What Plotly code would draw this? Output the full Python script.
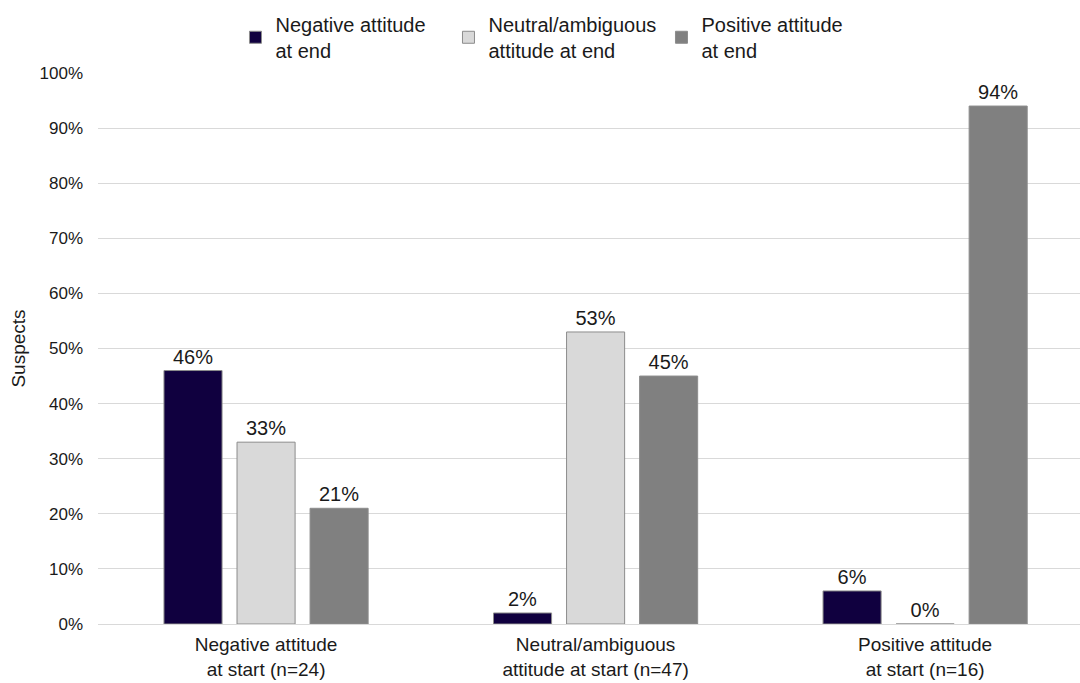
import plotly.graph_objects as go

categories = ["Negative attitude<br>at start (n=24)",
              "Neutral/ambiguous<br>attitude at start (n=47)",
              "Positive attitude<br>at start (n=16)"]
series_names = ["Negative attitude<br>at end",
                "Neutral/ambiguous<br>attitude at end",
                "Positive attitude<br>at end"]
negative_end = [46, 2, 6]
neutral_end = [33, 53, 0]
positive_end = [21, 45, 94]
colors = ["#10003F", "#D9D9D9", "#808080"]
y_ticks = list(range(0, 101, 10))
y_tick_labels = [f"{v}%" for v in y_ticks]

FONT = "Liberation Sans, Arial, sans-serif"
TXT = "#1a1a1a"

fig = go.Figure()
for name, vals, col in zip(series_names, [negative_end, neutral_end, positive_end], colors):
    fig.add_trace(go.Bar(
        x=list(range(len(categories))), y=vals, name=name,
        marker=dict(color=col, line=dict(color="#8C8C8C", width=1)),
        text=[f"{v}%" for v in vals], texttemplate="%{text}", textposition="outside",
        textfont=dict(family=FONT, size=20, color=TXT),
        cliponaxis=False,
    ))

fig.update_layout(
    width=1080, height=683,
    margin=dict(l=98, r=0, t=73, b=59, autoexpand=False),
    paper_bgcolor="white", plot_bgcolor="white",
    font=dict(family=FONT, size=20, color=TXT),
    barmode="group", bargap=0.335, bargroupgap=0.205,
    showlegend=True,
    legend=dict(orientation="h", x=0.14, xanchor="left", yref="container", y=0.993, yanchor="top",
                font=dict(family=FONT, size=20, color=TXT),
                entrywidth=168, entrywidthmode="pixels",
                itemwidth=30, traceorder="normal"),
    xaxis=dict(showgrid=False, showline=True, linecolor="#D9D9D9", linewidth=1,
               range=[-0.51, 2.47],
               tickmode="array", tickvals=list(range(len(categories))), ticktext=categories,
               tickfont=dict(family=FONT, size=19, color=TXT), ticklabelstandoff=3),
    yaxis=dict(range=[0, 100], tickvals=y_ticks, ticktext=y_tick_labels,
               showgrid=True, gridcolor="#D9D9D9", gridwidth=1, zeroline=False,
               tickfont=dict(family=FONT, size=17, color=TXT), ticklabelstandoff=14,
               title=dict(text="Suspects", font=dict(family=FONT, size=19, color=TXT), standoff=8)),
)

fig.write_html("out.html")
